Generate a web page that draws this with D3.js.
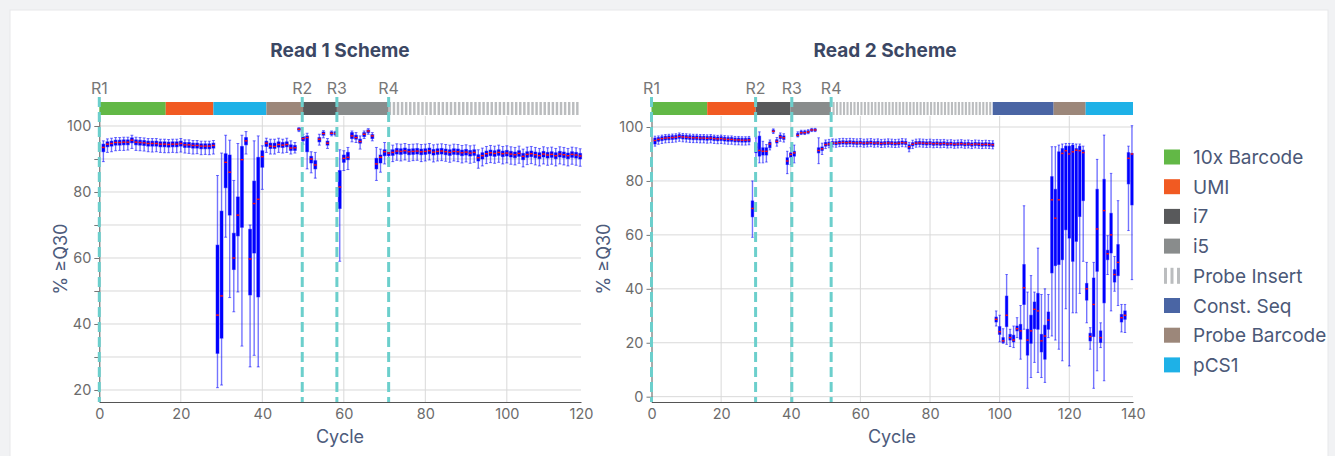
<!DOCTYPE html>
<html>
<head>
<meta charset="utf-8">
<script src="https://cdn.jsdelivr.net/npm/d3@7"></script>
<style>
  body { margin: 0; background: #f1f2f4; font-family: Inter, "Open Sans", sans-serif; }
</style>
</head>
<body>
<svg id="chart" width="1335" height="456"></svg>
<script>
// ---- legend / region types ----
var legendNames  = ["10x Barcode", "UMI", "i7", "i5", "Probe Insert", "Const. Seq", "Probe Barcode", "pCS1"];
var legendColors = ["#62b846", "#f15a22", "#58595b", "#898c8c", "#bbbdbf", "#4a65a4", "#9c877a", "#1eb1e7"];

// ---- read 1 scheme ----
var r1Parts = ["10x Barcode", "UMI", "pCS1", "Probe Barcode", "i7", "i5", "Probe Insert"];
var r1Edges = [0, 16.3, 28, 41, 50, 58.3, 71, 118.2];
var r1Marks = ["R1", "R2", "R3", "R4"];
var r1MarkCycles = [0, 49.8, 58.3, 71];
var r1XTicks = [0, 20, 40, 60, 80, 100, 120];
var r1YTicks = [20, 30, 40, 50, 60, 70, 80, 90, 100];

var r1Med = [
  93.5, 94.5, 94.7, 95.0, 95.0, 95.1, 95.1, 95.7, 95.1, 95.0,
  94.9, 94.7, 94.7, 94.7, 94.5, 94.5, 94.4, 94.5, 94.5, 94.7,
  94.3, 94.3, 94.1, 94.1, 93.9, 93.9, 93.9, 94.1, 42.7, 48.5,
  89.0, 86.0, 60.0, 73.0, 89.8, 95.5, 59.7, 76.5, 77.8, 90.7,
  94.8, 93.9, 93.8, 94.4, 94.2, 94.4, 93.3, 93.4, 99.0, 96.2,
  96.5, 90.0, 88.2, 96.0, 97.7, 94.8, 97.8, 97.7, 81.5, 90.2,
  90.5, 97.0, 96.5, 95.3, 97.5, 98.5, 97.0, 88.5, 90.5, 92.2,
  91.8, 92.0, 92.4, 92.3, 92.5, 92.2, 92.3, 92.4, 92.2, 92.3,
  92.5, 92.1, 92.3, 92.4, 92.2, 92.0, 92.3, 92.2, 91.9, 92.1,
  91.8, 92.0, 90.4, 91.0, 91.6, 91.9, 91.7, 92.0, 91.6, 91.8,
  91.5, 91.3, 91.7, 90.8, 91.4, 91.6, 91.3, 91.0, 91.5, 91.2,
  91.4, 91.0, 91.5, 91.3, 91.0, 91.4, 91.2, 90.9
];
var r1Q1 = [
  92.2, 93.7, 93.9, 94.2, 94.2, 94.3, 94.3, 94.9, 94.3, 94.2,
  94.1, 93.9, 93.9, 93.9, 93.7, 93.7, 93.6, 93.7, 93.7, 93.9,
  93.5, 93.5, 93.3, 93.3, 93.1, 93.1, 93.1, 93.3, 31.1, 35.7,
  81.3, 73.0, 56.5, 66.7, 69.3, 94.3, 48.8, 61.5, 48.2, 87.5,
  93.8, 93.2, 93.2, 93.6, 93.5, 93.7, 92.6, 92.6, 98.7, 95.5,
  92.2, 88.8, 87.0, 95.2, 97.2, 94.2, 97.4, 97.3, 75.0, 89.0,
  89.8, 96.2, 96.0, 94.8, 96.8, 98.0, 96.2, 87.0, 88.8, 91.0,
  91.0, 91.1, 91.5, 91.4, 91.6, 91.3, 91.4, 91.5, 91.3, 91.4,
  91.6, 91.2, 91.4, 91.5, 91.3, 91.1, 91.4, 91.3, 91.0, 91.2,
  90.9, 91.1, 89.4, 90.0, 90.7, 91.0, 90.8, 91.1, 90.7, 90.9,
  90.6, 90.4, 90.8, 89.8, 90.5, 90.7, 90.4, 90.1, 90.6, 90.3,
  90.5, 90.1, 90.6, 90.4, 90.1, 90.5, 90.3, 90.0
];
var r1Q3 = [
  94.5, 95.2, 95.4, 95.7, 95.7, 95.8, 95.8, 96.4, 95.8, 95.7,
  95.6, 95.4, 95.4, 95.4, 95.2, 95.2, 95.1, 95.2, 95.2, 95.4,
  95.0, 95.0, 94.8, 94.8, 94.6, 94.6, 94.6, 94.8, 63.9, 74.2,
  91.6, 91.2, 67.5, 78.5, 93.8, 96.5, 68.7, 83.3, 90.5, 92.5,
  95.4, 94.8, 94.8, 95.2, 95.0, 95.2, 94.3, 94.1, 99.3, 96.8,
  97.0, 90.8, 89.5, 96.5, 98.2, 95.4, 98.2, 98.2, 86.5, 91.2,
  92.0, 98.0, 97.2, 96.0, 98.0, 98.8, 97.4, 90.2, 91.2, 92.8,
  92.8, 92.8, 93.2, 93.1, 93.3, 93.0, 93.1, 93.2, 93.0, 93.1,
  93.3, 92.9, 93.1, 93.2, 93.0, 92.8, 93.1, 93.0, 92.7, 92.9,
  92.6, 92.8, 91.3, 91.9, 92.4, 92.7, 92.5, 92.8, 92.4, 92.6,
  92.3, 92.1, 92.5, 91.7, 92.2, 92.4, 92.1, 91.9, 92.3, 92.0,
  92.2, 91.9, 92.3, 92.1, 91.8, 92.2, 92.0, 91.7
];
var r1Lo = [
  89.2, 92.0, 92.2, 92.5, 92.6, 92.6, 92.7, 93.2, 92.6, 92.5,
  92.4, 92.2, 92.1, 92.2, 92.0, 91.9, 91.9, 92.0, 91.9, 92.1,
  91.8, 91.7, 91.5, 91.6, 91.3, 91.4, 91.3, 91.5, 20.7, 21.5,
  66.3, 48.0, 43.7, 49.7, 33.3, 91.5, 27.0, 30.5, 27.0, 80.8,
  92.0, 91.5, 91.5, 92.0, 91.8, 92.0, 91.5, 91.8, 98.3, 94.5,
  87.0, 85.8, 84.2, 94.2, 96.4, 93.2, 97.0, 97.0, 59.0, 86.5,
  86.8, 95.2, 95.0, 93.0, 96.2, 97.5, 95.5, 83.5, 86.0, 88.5,
  88.8, 89.2, 89.6, 89.4, 89.7, 89.3, 89.5, 89.6, 89.2, 89.4,
  89.7, 89.1, 89.4, 89.5, 89.3, 89.0, 89.4, 89.2, 88.8, 89.1,
  88.7, 89.0, 87.2, 87.9, 88.6, 88.9, 88.7, 89.0, 88.5, 88.8,
  88.4, 88.2, 88.7, 87.6, 88.3, 88.6, 88.2, 87.9, 88.5, 88.1,
  88.4, 87.9, 88.5, 88.2, 87.9, 88.4, 88.1, 87.8
];
var r1Hi = [
  95.5, 96.1, 96.3, 96.5, 96.5, 96.6, 96.6, 97.2, 96.6, 96.5,
  96.4, 96.2, 96.2, 96.2, 96.0, 96.0, 95.9, 96.0, 96.0, 96.2,
  95.8, 95.8, 95.6, 95.6, 95.4, 95.4, 95.4, 95.6, 85.0, 91.8,
  97.2, 95.7, 83.5, 94.7, 97.2, 98.3, 70.0, 95.5, 97.0, 94.0,
  96.3, 96.0, 96.0, 96.3, 96.0, 96.3, 95.5, 95.0, 99.5, 97.5,
  97.8, 92.2, 92.0, 97.5, 98.6, 96.2, 98.5, 98.4, 92.8, 92.5,
  93.5, 98.5, 98.0, 97.0, 98.5, 99.2, 98.0, 93.5, 93.0, 95.0,
  94.5, 94.2, 94.6, 94.5, 94.7, 94.4, 94.5, 94.6, 94.4, 94.5,
  94.7, 94.3, 94.5, 94.6, 94.4, 94.2, 94.5, 94.4, 94.1, 94.3,
  94.0, 94.2, 92.8, 93.3, 93.8, 94.1, 93.9, 94.2, 93.8, 94.0,
  93.7, 93.5, 93.9, 93.0, 93.6, 93.8, 93.5, 93.2, 93.7, 93.4,
  93.6, 93.2, 93.7, 93.5, 93.2, 93.6, 93.4, 93.1
];

// ---- read 2 scheme ----
var r2Parts = ["10x Barcode", "UMI", "i7", "i5", "Probe Insert", "Const. Seq", "Probe Barcode", "pCS1"];
var r2Edges = [0, 16, 29.9, 39.9, 51.5, 98, 115.5, 124.7, 138.3];
var r2Marks = ["R1", "R2", "R3", "R4"];
var r2MarkCycles = [0, 29.9, 40.3, 51.6];
var r2XTicks = [0, 20, 40, 60, 80, 100, 120, 140];
var r2YTicks = [0, 20, 40, 60, 80, 100];

var r2Med = [
  95.0, 95.4, 95.7, 95.9, 96.0, 96.1, 96.2, 96.5, 96.3, 96.2,
  96.1, 96.0, 96.0, 95.9, 95.9, 95.8, 95.9, 95.7, 95.6, 95.7,
  95.5, 95.4, 95.4, 95.2, 95.2, 95.1, 95.1, 95.2, 69.8, 92.5,
  91.3, 91.0, 91.0, 93.7, 98.4, 94.7, 96.3, 96.0, 87.4, 89.8,
  90.4, 96.9, 97.9, 97.9, 98.2, 98.9, 98.9, 91.3, 91.9, 93.5,
  93.7, 94.1, 94.0, 94.2, 94.3, 94.2, 94.3, 94.2, 94.1, 94.2,
  94.0, 94.1, 94.2, 94.0, 94.1, 93.9, 94.0, 94.1, 94.0, 93.9,
  94.0, 94.2, 94.1, 92.7, 93.6, 94.0, 94.1, 94.0, 93.9, 94.0,
  93.8, 93.9, 93.8, 93.9, 93.7, 93.8, 93.6, 93.7, 93.8, 93.6,
  93.7, 93.5, 93.7, 93.6, 93.5, 93.6, 93.5, 93.4, 28.7, 24.1,
  20.7, 30.2, 21.9, 21.0, 25.2, 24.4, 40.4, 21.0, 24.4, 32.4,
  31.8, 20.7, 22.5, 28.4, 73.0, 66.2, 73.0, 90.2, 91.2, 90.0,
  90.8, 91.4, 91.2, 90.5, 40.0, 22.3, 34.2, 62.2, 21.9, 69.0,
  53.0, 60.0, 45.3, 49.8, 29.3, 30.2, 88.4, 90.0
];
var r2Q1 = [
  93.7, 94.7, 95.0, 95.2, 95.3, 95.4, 95.5, 95.8, 95.6, 95.5,
  95.4, 95.3, 95.3, 95.2, 95.2, 95.1, 95.2, 95.0, 94.9, 95.0,
  94.8, 94.7, 94.7, 94.5, 94.5, 94.4, 94.4, 94.5, 66.7, 90.5,
  89.2, 89.6, 89.6, 92.3, 98.1, 94.1, 95.7, 95.4, 86.1, 88.8,
  89.2, 96.6, 97.5, 97.5, 97.8, 98.6, 98.6, 90.4, 91.3, 92.9,
  93.1, 93.5, 93.4, 93.6, 93.7, 93.6, 93.7, 93.6, 93.5, 93.6,
  93.4, 93.5, 93.6, 93.4, 93.5, 93.3, 93.4, 93.5, 93.4, 93.3,
  93.4, 93.6, 93.5, 91.9, 93.0, 93.4, 93.5, 93.4, 93.3, 93.4,
  93.2, 93.3, 93.2, 93.3, 93.1, 93.2, 93.0, 93.1, 93.2, 93.0,
  93.1, 92.9, 93.1, 93.0, 92.9, 93.0, 92.9, 92.8, 27.7, 23.1,
  20.1, 26.0, 21.0, 20.3, 24.4, 21.3, 34.2, 15.4, 19.8, 25.2,
  25.0, 16.6, 13.9, 25.0, 45.9, 48.6, 49.0, 50.8, 61.9, 58.8,
  50.2, 57.6, 66.8, 72.7, 35.8, 20.7, 22.3, 46.5, 20.1, 34.8,
  50.8, 53.3, 42.5, 44.9, 27.7, 28.7, 78.9, 71.1
];
var r2Q3 = [
  95.9, 96.1, 96.4, 96.6, 96.7, 96.8, 96.9, 97.2, 97.0, 96.9,
  96.8, 96.7, 96.7, 96.6, 96.6, 96.5, 96.6, 96.4, 96.3, 96.4,
  96.2, 96.1, 96.1, 95.9, 95.9, 95.8, 95.8, 95.9, 72.6, 94.0,
  96.6, 92.3, 92.3, 94.4, 98.9, 95.3, 97.0, 96.7, 88.6, 90.4,
  91.0, 97.6, 98.4, 98.4, 98.6, 99.2, 99.2, 92.3, 92.6, 94.3,
  94.4, 94.6, 94.6, 94.8, 94.9, 94.8, 94.9, 94.8, 94.7, 94.8,
  94.6, 94.7, 94.8, 94.6, 94.7, 94.5, 94.6, 94.7, 94.6, 94.5,
  94.6, 94.8, 94.7, 93.4, 94.2, 94.6, 94.7, 94.6, 94.5, 94.6,
  94.4, 94.5, 94.4, 94.5, 94.3, 94.4, 94.2, 94.3, 94.4, 94.2,
  94.3, 94.1, 94.3, 94.2, 94.1, 94.2, 94.1, 94.0, 29.5, 26.0,
  21.9, 37.3, 23.1, 22.8, 26.2, 26.8, 49.0, 25.0, 30.2, 35.1,
  38.3, 23.1, 26.5, 31.4, 81.6, 76.9, 90.8, 92.0, 92.9, 92.9,
  93.3, 92.0, 92.9, 91.4, 42.0, 23.5, 44.0, 76.9, 24.4, 80.6,
  54.3, 68.0, 47.1, 56.4, 30.5, 31.8, 90.5, 90.2
];
var r2Lo = [
  92.9, 93.6, 93.9, 94.1, 94.2, 94.3, 94.4, 94.7, 94.5, 94.4,
  94.3, 94.2, 94.2, 94.1, 94.1, 94.0, 94.1, 93.9, 93.8, 93.9,
  93.7, 93.6, 93.6, 93.4, 93.4, 93.3, 93.3, 93.4, 59.1, 88.0,
  86.7, 86.7, 87.0, 91.5, 97.6, 92.9, 94.7, 94.4, 82.7, 86.0,
  86.7, 96.3, 97.2, 97.2, 97.5, 98.3, 98.3, 86.4, 89.8, 92.0,
  92.3, 92.6, 92.5, 92.7, 92.8, 92.7, 92.8, 92.7, 92.6, 92.7,
  92.5, 92.6, 92.7, 92.5, 92.6, 92.4, 92.5, 92.6, 92.5, 92.4,
  92.5, 92.7, 92.6, 90.8, 92.0, 92.5, 92.6, 92.5, 92.4, 92.5,
  92.3, 92.4, 92.3, 92.4, 92.2, 92.3, 92.1, 92.2, 92.3, 92.1,
  92.2, 92.0, 92.2, 92.1, 92.0, 92.1, 92.0, 91.9, 26.2, 20.3,
  19.8, 19.4, 18.6, 18.2, 21.9, 13.9, 25.0, 3.1, 7.1, 12.7,
  9.0, 7.1, 5.3, 21.9, 22.5, 21.0, 17.6, 13.3, 32.6, 11.4,
  31.1, 31.1, 38.3, 50.2, 27.4, 17.6, 3.1, 9.6, 18.2, 5.9,
  45.3, 31.8, 39.1, 33.8, 24.0, 23.8, 61.6, 43.4
];
var r2Hi = [
  96.6, 96.7, 97.0, 97.2, 97.3, 97.4, 97.5, 97.8, 97.6, 97.5,
  97.4, 97.3, 97.3, 97.2, 97.2, 97.1, 97.2, 97.0, 96.9, 97.0,
  96.8, 96.7, 96.7, 96.5, 96.5, 96.4, 96.4, 96.5, 80.0, 96.0,
  98.2, 94.7, 93.5, 95.2, 99.3, 96.1, 97.8, 97.5, 91.0, 92.3,
  93.3, 98.2, 98.8, 98.8, 99.0, 99.5, 99.5, 96.0, 94.0, 95.2,
  95.4, 95.6, 95.5, 95.7, 95.8, 95.7, 95.8, 95.7, 95.6, 95.7,
  95.5, 95.6, 95.7, 95.5, 95.6, 95.4, 95.5, 95.6, 95.5, 95.4,
  95.5, 95.7, 95.6, 94.3, 95.1, 95.5, 95.6, 95.5, 95.4, 95.5,
  95.3, 95.4, 95.3, 95.4, 95.2, 95.3, 95.1, 95.2, 95.3, 95.1,
  95.2, 95.0, 95.2, 95.1, 95.0, 95.1, 95.0, 94.9, 31.8, 30.2,
  25.2, 45.3, 25.0, 26.2, 29.3, 33.8, 70.8, 38.8, 44.9, 38.8,
  55.1, 37.9, 40.0, 37.9, 92.7, 92.7, 93.3, 93.7, 93.9, 93.9,
  93.9, 93.7, 93.7, 92.9, 49.8, 25.6, 49.8, 88.0, 27.4, 97.0,
  59.7, 82.8, 52.0, 72.7, 34.2, 34.2, 92.9, 100.5
];

var svg = d3.select("#chart");
var bandTop = 102, bandBottom = 115, plotTop = 116, plotBottom = 402;

// card
svg.append("rect").attr("x", 10).attr("y", 10).attr("width", 1318).attr("height", 460)
    .attr("fill", "#fff").attr("stroke", "#e7e8ea");

function colorOf(name) {
    return legendColors[legendNames.indexOf(name)];
}

function drawRead(cfg) {
    var x = d3.scaleLinear().domain([0, cfg.edges[cfg.edges.length - 1]])
        .range([cfg.left, cfg.right]).clamp(true);
    var y = d3.scaleLinear().domain(cfg.yDomain).range([plotBottom, plotTop]);
    var g = svg.append("g");
    var step = x(1) - x(0);

    // title
    g.append("text").attr("x", cfg.titleX).attr("y", 57).attr("text-anchor", "middle")
        .style("font-size", "19px").style("font-weight", 700).attr("fill", "#3b4764")
        .text(cfg.title);

    // grid
    g.selectAll(".hg").data(cfg.yTicks).enter().append("line")
        .attr("x1", cfg.left).attr("x2", cfg.right)
        .attr("y1", function (d) { return y(d); }).attr("y2", function (d) { return y(d); })
        .attr("stroke", "#d9d9d9").attr("stroke-width", 1);
    g.selectAll(".vg").data(cfg.xTicks.filter(function (d) { return d > 0 && x(d) < cfg.right; }))
        .enter().append("line")
        .attr("x1", function (d) { return x(d); }).attr("x2", function (d) { return x(d); })
        .attr("y1", plotTop).attr("y2", plotBottom)
        .attr("stroke", "#d9d9d9").attr("stroke-width", 1);

    // scheme band
    for (var i = 0; i < cfg.parts.length; i++) {
        var a = cfg.edges[i], b = cfg.edges[i + 1];
        if (cfg.parts[i] === "Probe Insert") {
            var cs = d3.range(Math.ceil(a), Math.floor(b));
            g.selectAll(".st" + i).data(cs).enter().append("rect")
                .attr("x", function (c) { return x(c); })
                .attr("width", step * 0.6)
                .attr("y", bandTop).attr("height", bandBottom - bandTop)
                .attr("fill", colorOf("Probe Insert"));
        } else {
            g.append("rect").attr("x", x(a)).attr("width", x(b) - x(a))
                .attr("y", bandTop).attr("height", bandBottom - bandTop)
                .attr("fill", colorOf(cfg.parts[i]));
        }
    }

    // axes
    var yAxis = d3.axisLeft(y).tickValues(cfg.yTicks).tickSize(5).tickSizeOuter(0).tickPadding(3)
        .tickFormat(function (d) { return d % 20 === 0 ? d : ""; });
    var ya = g.append("g").attr("transform", "translate(" + cfg.left + ",0)").call(yAxis);
    var xAxis = d3.axisBottom(x).tickValues(cfg.xTicks).tickSize(0).tickSizeOuter(0).tickPadding(7);
    var xa = g.append("g").attr("transform", "translate(0," + plotBottom + ")").call(xAxis);
    [ya, xa].forEach(function (ax) {
        ax.select(".domain").attr("stroke", "#555");
        ax.selectAll(".tick line").attr("stroke", "#777");
        ax.selectAll(".tick text").attr("fill", "#6b6b6b")
            .style("font-size", "14.5px").style("font-family", "Inter, sans-serif");
    });

    // axis titles
    g.append("text").attr("x", cfg.cycleX).attr("y", 443).attr("text-anchor", "middle")
        .style("font-size", "18px").attr("fill", "#4d5b7c").text("Cycle");
    g.append("text").attr("transform", "translate(" + cfg.qX + ",259) rotate(-90)")
        .attr("text-anchor", "middle").style("font-size", "18px").attr("fill", "#4d5b7c")
        .text("% \u2265Q30");

    // box plots
    var bw = step * 0.72;
    var rows = cfg.med.map(function (m, i) {
        return { c: i + 1, lo: cfg.lo[i], q1: cfg.q1[i], med: m, q3: cfg.q3[i], hi: cfg.hi[i] };
    });
    var box = g.selectAll(".box").data(rows).enter().append("g");
    box.append("line")
        .attr("x1", function (d) { return x(d.c); }).attr("x2", function (d) { return x(d.c); })
        .attr("y1", function (d) { return y(d.hi); }).attr("y2", function (d) { return y(d.lo); })
        .attr("stroke", "#0000ff").attr("stroke-opacity", 0.55).attr("stroke-width", 1.4);
    ["hi", "lo"].forEach(function (k) {
        box.append("line")
            .attr("x1", function (d) { return x(d.c) - bw / 2; }).attr("x2", function (d) { return x(d.c) + bw / 2; })
            .attr("y1", function (d) { return y(d[k]); }).attr("y2", function (d) { return y(d[k]); })
            .attr("stroke", "#0000ff").attr("stroke-opacity", 0.55).attr("stroke-width", 1);
    });
    box.append("rect")
        .attr("x", function (d) { return x(d.c) - bw / 2; }).attr("width", bw)
        .attr("y", function (d) { return y(d.q3); })
        .attr("height", function (d) { return Math.max(1, y(d.q1) - y(d.q3)); })
        .attr("fill", "#0000ff").attr("stroke", "#0000ff").attr("stroke-opacity", 0.45)
        .attr("stroke-width", 1);
    box.append("line")
        .attr("x1", function (d) { return x(d.c) - bw / 2; }).attr("x2", function (d) { return x(d.c) + bw / 2; })
        .attr("y1", function (d) { return y(d.med); }).attr("y2", function (d) { return y(d.med); })
        .attr("stroke", "#ff1010").attr("stroke-width", 1.4);

    // read markers
    g.selectAll(".mk").data(cfg.markCycles).enter().append("line")
        .attr("x1", function (d) { return x(d); }).attr("x2", function (d) { return x(d); })
        .attr("y1", 97).attr("y2", plotBottom)
        .attr("stroke", "#6ccfcc").attr("stroke-width", 3).attr("stroke-dasharray", "10,5");
    g.selectAll(".ml").data(cfg.marks).enter().append("text")
        .attr("x", function (d, i) { return x(cfg.markCycles[i]); }).attr("y", 94)
        .attr("text-anchor", "middle").style("font-size", "16px").attr("fill", "#777")
        .text(function (d) { return d; });
}

drawRead({
    title: "Read 1 Scheme", titleX: 340, cycleX: 340, qX: 67,
    left: 99.3, right: 581, yDomain: [16.36, 103.03],
    parts: r1Parts, edges: r1Edges, marks: r1Marks, markCycles: r1MarkCycles,
    xTicks: r1XTicks, yTicks: r1YTicks,
    med: r1Med, q1: r1Q1, q3: r1Q3, lo: r1Lo, hi: r1Hi
});
drawRead({
    title: "Read 2 Scheme", titleX: 885, cycleX: 892, qX: 610,
    left: 651.5, right: 1133, yDomain: [-1.97, 104.08],
    parts: r2Parts, edges: r2Edges, marks: r2Marks, markCycles: r2MarkCycles,
    xTicks: r2XTicks, yTicks: r2YTicks,
    med: r2Med, q1: r2Q1, q3: r2Q3, lo: r2Lo, hi: r2Hi
});

// legend
var leg = svg.append("g").selectAll("g").data(legendNames).enter().append("g")
    .attr("transform", function (d, i) { return "translate(1164," + (157 + i * 29.7) + ")"; });
leg.each(function (d, i) {
    var s = d3.select(this);
    if (d === "Probe Insert") {
        [0, 6.5, 13].forEach(function (o) {
            s.append("rect").attr("x", o).attr("y", -8).attr("width", 3).attr("height", 16)
                .attr("fill", legendColors[i]);
        });
    } else {
        s.append("rect").attr("x", 0).attr("y", -7.5).attr("width", 16).attr("height", 15)
            .attr("fill", legendColors[i]);
    }
    s.append("text").attr("x", 29).attr("y", 7).style("font-size", "19px")
        .attr("fill", "#4b5877").text(d);
});
</script>
</body>
</html>
